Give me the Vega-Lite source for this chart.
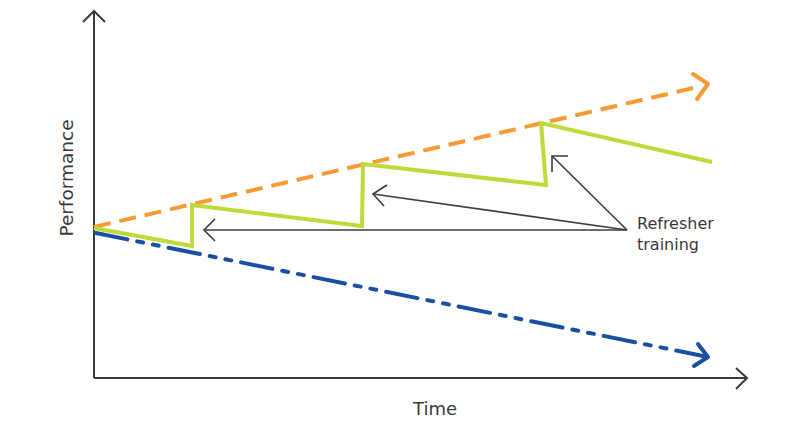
{
  "$schema": "https://vega.github.io/schema/vega-lite/v6.json",
  "width": 800,
  "height": 425,
  "padding": 0,
  "autosize": {"type": "none"},
  "background": "white",
  "config": {"view": {"stroke": null}},
  "encoding": {
    "x": {"field": "x", "type": "quantitative", "scale": {"domain": [-94, 706], "nice": false, "zero": false}, "axis": null},
    "y": {"field": "y", "type": "quantitative", "scale": {"domain": [-47, 378], "nice": false, "zero": false}, "axis": null}
  },
  "layer": [
    {
      "data": {"values": [
        {"g": "yaxis", "o": 1, "x": 0, "y": 0},
        {"g": "yaxis", "o": 2, "x": 0, "y": 367},
        {"g": "yhead", "o": 1, "x": -11, "y": 356},
        {"g": "yhead", "o": 2, "x": 0, "y": 367},
        {"g": "yhead", "o": 3, "x": 11, "y": 356},
        {"g": "xaxis", "o": 1, "x": 0, "y": 0},
        {"g": "xaxis", "o": 2, "x": 653, "y": 0},
        {"g": "xhead", "o": 1, "x": 642, "y": 10},
        {"g": "xhead", "o": 2, "x": 653, "y": 0},
        {"g": "xhead", "o": 3, "x": 642, "y": -11}
      ]},
      "mark": {"type": "line", "color": "#3a3a3a", "strokeWidth": 2},
      "encoding": {"detail": {"field": "g"}, "order": {"field": "o"}}
    },
    {
      "data": {"values": [
        {"g": "a1", "o": 1, "x": 533, "y": 148},
        {"g": "a1", "o": 2, "x": 110, "y": 148},
        {"g": "h1", "o": 1, "x": 121, "y": 159},
        {"g": "h1", "o": 2, "x": 110, "y": 148},
        {"g": "h1", "o": 3, "x": 121, "y": 137},
        {"g": "a2", "o": 1, "x": 533, "y": 148},
        {"g": "a2", "o": 2, "x": 279, "y": 184},
        {"g": "h2", "o": 1, "x": 293, "y": 193},
        {"g": "h2", "o": 2, "x": 279, "y": 184},
        {"g": "h2", "o": 3, "x": 290, "y": 172},
        {"g": "a3", "o": 1, "x": 533, "y": 148},
        {"g": "a3", "o": 2, "x": 458, "y": 222},
        {"g": "h3", "o": 1, "x": 474, "y": 222},
        {"g": "h3", "o": 2, "x": 458, "y": 222},
        {"g": "h3", "o": 3, "x": 458, "y": 206}
      ]},
      "mark": {"type": "line", "color": "#3d3d3d", "strokeWidth": 1.6},
      "encoding": {"detail": {"field": "g"}, "order": {"field": "o"}}
    },
    {
      "data": {"values": [
        {"o": 1, "x": 0, "y": 151},
        {"o": 2, "x": 608, "y": 292}
      ]},
      "mark": {"type": "line", "color": "#F79A34", "strokeWidth": 4, "strokeDash": [17, 9]},
      "encoding": {"order": {"field": "o"}}
    },
    {
      "data": {"values": [
        {"o": 1, "x": 599, "y": 304},
        {"o": 2, "x": 614, "y": 294},
        {"o": 3, "x": 603, "y": 279}
      ]},
      "mark": {"type": "line", "color": "#F79A34", "strokeWidth": 4, "strokeCap": "round", "strokeJoin": "round"},
      "encoding": {"order": {"field": "o"}}
    },
    {
      "data": {"values": [
        {"o": 1, "x": 2, "y": 145},
        {"o": 2, "x": 609, "y": 22}
      ]},
      "mark": {"type": "line", "color": "#1A50A3", "strokeWidth": 4, "strokeCap": "round", "strokeDash": [32, 10, 6, 10, 6, 10]},
      "encoding": {"order": {"field": "o"}}
    },
    {
      "data": {"values": [
        {"o": 1, "x": 604, "y": 34},
        {"o": 2, "x": 614, "y": 21},
        {"o": 3, "x": 600, "y": 12}
      ]},
      "mark": {"type": "line", "color": "#1A50A3", "strokeWidth": 4, "strokeCap": "round", "strokeJoin": "round"},
      "encoding": {"order": {"field": "o"}}
    },
    {
      "data": {"values": [
        {"o": 1, "x": 0, "y": 150},
        {"o": 2, "x": 98, "y": 132},
        {"o": 3, "x": 98, "y": 173},
        {"o": 4, "x": 268, "y": 152},
        {"o": 5, "x": 269, "y": 214},
        {"o": 6, "x": 452, "y": 193},
        {"o": 7, "x": 447, "y": 255},
        {"o": 8, "x": 618, "y": 216}
      ]},
      "mark": {"type": "line", "color": "#C3D93B", "strokeWidth": 4},
      "encoding": {"order": {"field": "o"}}
    },
    {
      "data": {"values": [
        {"t": "Refresher", "x": 543, "y": 149},
        {"t": "training", "x": 543, "y": 128}
      ]},
      "mark": {"type": "text", "align": "left", "baseline": "alphabetic", "font": "DejaVu Sans", "fontSize": 16, "color": "#3a3a3a"},
      "encoding": {"text": {"field": "t"}}
    },
    {
      "data": {"values": [
        {"t": "Time", "x": 341, "y": -37}
      ]},
      "mark": {"type": "text", "align": "center", "baseline": "alphabetic", "font": "DejaVu Sans", "fontSize": 18, "color": "#3a3a3a"},
      "encoding": {"text": {"field": "t"}}
    },
    {
      "data": {"values": [
        {"t": "Performance", "x": -21, "y": 200}
      ]},
      "mark": {"type": "text", "align": "center", "baseline": "alphabetic", "angle": 270, "font": "DejaVu Sans", "fontSize": 18.5, "color": "#3a3a3a"},
      "encoding": {"text": {"field": "t"}}
    }
  ]
}
